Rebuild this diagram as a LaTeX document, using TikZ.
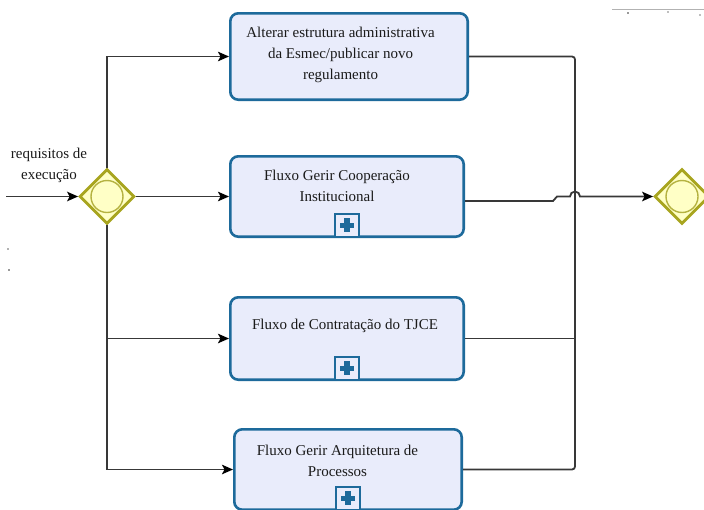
\documentclass[tikz,border=0pt]{standalone}
\usepackage{fontspec}
\setmainfont{Liberation Serif}
\usetikzlibrary{arrows.meta,shapes.geometric}

\definecolor{taskblue}{HTML}{1D6A9B}
\definecolor{taskfill}{HTML}{E9ECFB}
\definecolor{gateolive}{HTML}{A8A51F}
\definecolor{gatefill}{HTML}{FFFFC6}
\definecolor{linegray}{HTML}{383838}
\definecolor{textgray}{HTML}{1A1A1A}

\tikzset{
  flow/.style={draw=linegray, line width=1.8pt,
    -{Stealth[length=11pt,width=9.5pt,inset=2.5pt,color=black]}},
  link/.style={draw=linegray, line width=1.8pt},
  taskbox/.style={rectangle, draw=taskblue, fill=taskfill, line width=2.6pt,
    rounded corners=8pt, inner sep=0pt},
  gate/.style={diamond, draw=gateolive, fill=gatefill, line width=2.8pt,
    minimum width=55pt, minimum height=55pt, inner sep=0pt},
  ring/.style={circle, draw=gateolive!85, line width=1.4pt,
    minimum size=32pt, inner sep=0pt},
  caption/.style={font=\fontsize{15}{21}\selectfont, align=center,
    text=textgray, inner sep=0pt},
  subbox/.style={rectangle, draw=taskblue, fill=taskfill, line width=2.2pt,
    minimum width=24pt, minimum height=23pt, inner sep=0pt, anchor=south,
    path picture={
      \fill[taskblue]
        ([xshift=-7pt,yshift=-2.6pt]path picture bounding box.center) rectangle
        ([xshift=7pt,yshift=2.6pt]path picture bounding box.center);
      \fill[taskblue]
        ([xshift=-2.6pt,yshift=-7pt]path picture bounding box.center) rectangle
        ([xshift=2.6pt,yshift=7pt]path picture bounding box.center);
    }},
}

\begin{document}
\begin{tikzpicture}[x=1pt,y=-1pt]
\useasboundingbox (0,0) rectangle (704,509);

% gateways
\node[gate] (gwL) at (107,196.5) {};
\node[ring] (gwLc) at (gwL) {};
\node[gate] (gwR) at (682,196.5) {};
\node[ring] (gwRc) at (gwR) {};

% tasks
\node[taskbox, minimum width=237.4pt, minimum height=86.4pt] (b1) at (349,56.5) {};
\node[caption] (t1) at (340.5,55)
  {Alterar estrutura administrativa\\da Esmec/publicar novo\\regulamento};

\node[taskbox, minimum width=233.4pt, minimum height=80.4pt] (b2) at (347,196.5) {};
\node[caption] (t2) at (337,185.5) {Fluxo Gerir Cooperação\\Institucional};
\node[subbox] (p2) at (b2.south) {};

\node[taskbox, minimum width=233.4pt, minimum height=82.4pt] (b3) at (347,338.5) {};
\node[caption] (t3) at (345,326) {Fluxo de Contratação do TJCE};
\node[subbox] (p3) at (b3.south) {};

\node[taskbox, minimum width=227.4pt, minimum height=80.4pt] (b4) at (348,469.5) {};
\node[caption] (t4) at (337.5,460.5) {Fluxo Gerir Arquitetura de\\Processos};
\node[subbox] (p4) at (b4.south) {};

% incoming condition
\coordinate (in) at (6,196.5);
\node[caption] (cond) at (49,165) {requisitos de\\execução};

% split
\draw[flow] (in) -- (gwL.west);
\draw[flow] (gwL.north) |- (b1.west);
\draw[flow] (gwL.east) -- (b2.west);
\draw[flow] (gwL.south) |- (b3.west);
\draw[flow] (gwL.south) |- (b4.west);

% join
\coordinate (rx) at (575,0);
\draw[link, rounded corners=3pt] (b1.east) -| (rx |- b4.east) -- (b4.east);
\draw[link] (b3.east) -- (rx |- b3.east);
\draw[flow] ([yshift=-4.5pt]b2.east) -- (553,201) -- (557,196.5) -- (570,196.5)
  arc (180:360:5) -- (gwR.west);

% stray marks along the edges
\draw[black!30, line width=0.8pt] (612,9) -- (704,9);
\fill[black!40] (627,12) rectangle (629,14);
\fill[black!25] (667,11) rectangle (669,13);
\fill[black!25] (699,14) rectangle (701,16);
\fill[black!30] (7,248) rectangle (9,250);
\fill[black!40] (8,269) rectangle (10,271);
\end{tikzpicture}
\end{document}
